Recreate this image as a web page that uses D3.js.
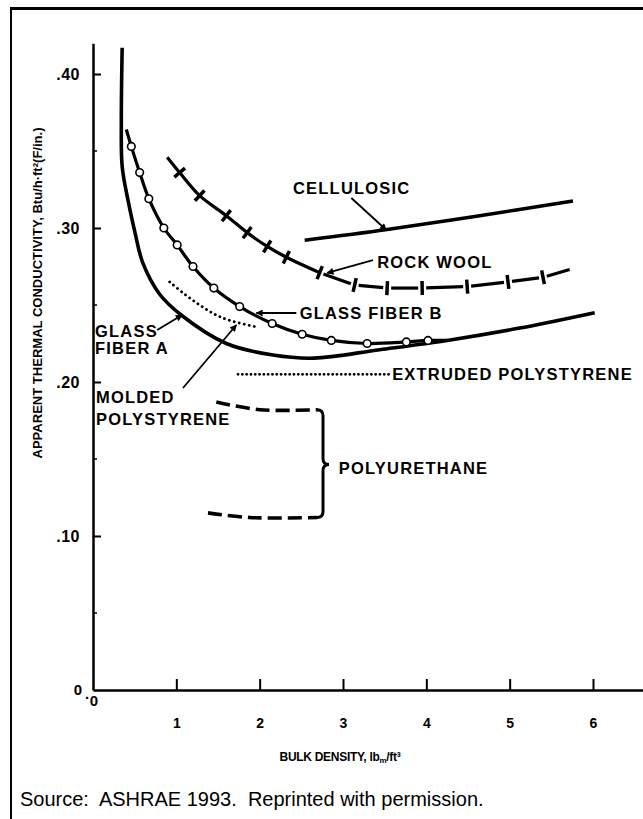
<!DOCTYPE html>
<html><head><meta charset="utf-8">
<script src="https://cdn.jsdelivr.net/npm/d3@7"></script>
<style>
html,body{margin:0;padding:0;background:#fff;}
svg{display:block;}
text{font-family:Arial,"Liberation Sans",Helvetica,sans-serif;fill:#000;}
</style></head><body>
<script>
// ---------- data ----------
const xTicks = [1, 2, 3, 4, 5, 6];
const xTickLabels = ["1", "2", "3", "4", "5", "6"];
const yTicks = [0.10, 0.20, 0.30, 0.40];
const yTickLabels = [".10", ".20", ".30", ".40"];
const yMinorTicks = [0.05, 0.15, 0.25, 0.35];

const glassFiberA = [[0.35,0.417],[0.34,0.37],[0.35,0.34],[0.42,0.318],[0.50,0.298],[0.60,0.277],[0.80,0.257],[1.07,0.243],[1.60,0.225],[2.16,0.2175],[2.65,0.2155],[3.44,0.221],[4.25,0.227],[5.12,0.235],[6.02,0.245]];
const glassFiberBLine = [[0.40,0.364],[0.46,0.353],[0.56,0.336],[0.67,0.319],[0.85,0.300],[1.01,0.289],[1.20,0.275],[1.45,0.261],[1.76,0.249],[2.15,0.238],[2.51,0.231],[2.86,0.227],[3.29,0.225],[3.76,0.226],[4.02,0.227],[4.25,0.227]];
const glassFiberBPoints = [[0.46,0.353],[0.56,0.336],[0.67,0.319],[0.85,0.300],[1.01,0.289],[1.20,0.275],[1.45,0.261],[1.76,0.249],[2.15,0.238],[2.51,0.231],[2.86,0.227],[3.29,0.225],[3.76,0.226],[4.02,0.227]];
const rockWool = [[0.89,0.346],[1.04,0.336],[1.28,0.321],[1.60,0.308],[1.85,0.297],[2.09,0.288],[2.32,0.281],[2.72,0.271],[3.14,0.263],[3.53,0.261],[3.95,0.261],[4.49,0.262],[4.98,0.265],[5.40,0.268],[5.72,0.273]];
const cellulosic = [[2.54,0.292],[3.53,0.299],[4.64,0.308],[5.76,0.3175]];
const moldedPolystyrene = [[0.92,0.265],[1.10,0.257],[1.28,0.250],[1.46,0.244],[1.64,0.240],[1.94,0.236]];
const extrudedPolystyrene = [[1.74,0.205],[3.55,0.205]];
const polyurethaneHigh = [[1.48,0.187],[2.00,0.182],[2.70,0.182]];
const polyurethaneLow = [[1.38,0.115],[1.88,0.112],[2.69,0.112]];

const labels = [
  {t:"CELLULOSIC", x:2.40, y:0.322},
  {t:"ROCK WOOL", x:3.41, y:0.274},
  {t:"GLASS FIBER B", x:2.48, y:0.241},
  {t:"GLASS", x:0.024, y:0.229},
  {t:"FIBER A", x:0.024, y:0.218},
  {t:"MOLDED", x:0.036, y:0.1864},
  {t:"POLYSTYRENE", x:0.036, y:0.172},
  {t:"EXTRUDED POLYSTYRENE", x:3.59, y:0.2013},
  {t:"POLYURETHANE", x:2.95, y:0.140}
];
const arrows = [
  {from:[3.10,0.3195], to:[3.52,0.2987]},
  {from:[3.36,0.2792], to:[2.81,0.2708]},
  {from:[2.44,0.2448], to:[1.96,0.2448]},
  {from:[0.77,0.2338], to:[1.07,0.2435]},
  {from:[1.08,0.1961], to:[1.72,0.237]}
];

// ---------- chart ----------
const W = 643, H = 819;
const svg = d3.select("body").append("svg").attr("width", W).attr("height", H);

const x = d3.scaleLinear().domain([0, 6.6]).range([93, 643]);
const y = d3.scaleLinear().domain([0, 0.42]).range([690, 43.2]);

// frame
svg.append("line").attr("x1",10).attr("x2",W).attr("y1",8.5).attr("y2",8.5).attr("stroke","#000").attr("stroke-width",3);
svg.append("line").attr("x1",11).attr("x2",11).attr("y1",7).attr("y2",H).attr("stroke","#000").attr("stroke-width",2);

// y axis
const yAxis = d3.axisLeft(y).tickValues(yTicks).tickFormat((d,i)=>yTickLabels[i]).tickSizeInner(-8).tickSizeOuter(0).tickPadding(13);
const gy = svg.append("g").attr("transform", `translate(${x(0)},0)`).call(yAxis);
gy.select(".domain").attr("stroke-width", 2.5);
gy.selectAll(".tick line").attr("stroke-width", 2);
gy.selectAll(".tick text").attr("font-size", 16).attr("font-weight","bold").attr("font-family", null).attr("letter-spacing", 0.5);
svg.append("g").selectAll("line").data(yMinorTicks).join("line")
  .attr("x1", x(0)).attr("x2", x(0)+4).attr("y1", d=>y(d)).attr("y2", d=>y(d)).attr("stroke","#000").attr("stroke-width",1.5);

// x axis
const xAxis = d3.axisBottom(x).tickValues(xTicks).tickFormat((d,i)=>xTickLabels[i]).tickSizeInner(-11).tickSizeOuter(0).tickPadding(28);
const gx = svg.append("g").attr("transform", `translate(0,${y(0)})`).call(xAxis);
gx.select(".domain").attr("stroke-width", 2.5);
gx.selectAll(".tick line").attr("stroke-width", 2);
gx.selectAll(".tick text").attr("font-size", 14).attr("font-weight","bold").attr("font-family", null);

// origin zeros
svg.append("text").attr("x", x(0)-15).attr("y", y(0)+5).attr("text-anchor","middle").attr("font-size",15).attr("font-weight","bold").text("0");
svg.append("text").attr("x", x(0)-6).attr("y", y(0)+9).attr("text-anchor","middle").attr("font-size",15).attr("font-weight","bold").text(".");
svg.append("text").attr("x", x(0)+1).attr("y", y(0)+16).attr("text-anchor","middle").attr("font-size",15).attr("font-weight","bold").text("0");

// axis titles
const xt = svg.append("text").attr("x", 340).attr("y", 761).attr("text-anchor","middle")
  .attr("font-size", 12).attr("font-weight","bold").attr("letter-spacing", -0.3);
xt.append("tspan").text("BULK DENSITY, lb");
xt.append("tspan").attr("font-size", 8).attr("dy", 2).text("m");
xt.append("tspan").attr("dy", -2).text("/ft³");

svg.append("text").attr("transform","translate(42,293) rotate(-90)").attr("text-anchor","middle")
  .attr("font-size", 13).attr("font-weight","bold").attr("textLength",331).attr("lengthAdjust","spacingAndGlyphs")
  .text("APPARENT THERMAL CONDUCTIVITY, Btu/h·ft²(F/in.)");

// source
svg.append("text").attr("x", 20).attr("y", 806).attr("font-size", 20).style("white-space","pre")
  .text("Source:  ASHRAE 1993.  Reprinted with permission.");

// curves
const line = d3.line().x(d=>x(d[0])).y(d=>y(d[1])).curve(d3.curveCatmullRom.alpha(0.5));
const plot = svg.append("g").attr("fill","none").attr("stroke","#000");

plot.append("path").datum(glassFiberA).attr("d", line).attr("stroke-width", 3.6);
plot.append("path").datum(glassFiberBLine).attr("d", line).attr("stroke-width", 3.2);
plot.append("path").datum(cellulosic).attr("d", line).attr("stroke-width", 3.6);

// rock wool: solid portion then gapped portion
const rwSplit = 7;
plot.append("path").datum(rockWool.slice(0, rwSplit+1)).attr("d", line).attr("stroke-width", 3.2);
const gap = 4;
for (let i = rwSplit; i < rockWool.length-1; i++) {
  const a = [x(rockWool[i][0]), y(rockWool[i][1])];
  const b = [x(rockWool[i+1][0]), y(rockWool[i+1][1])];
  const dx = b[0]-a[0], dy = b[1]-a[1], L = Math.hypot(dx,dy);
  const ux = dx/L, uy = dy/L;
  const endGap = (i+1 === rockWool.length-1) ? 0 : gap;
  plot.append("line").attr("x1", a[0]+ux*gap).attr("y1", a[1]+uy*gap)
    .attr("x2", b[0]-ux*endGap).attr("y2", b[1]-uy*endGap).attr("stroke-width", 3.2);
}
// rock wool cross ticks
for (let i = 1; i < rockWool.length-1; i++) {
  const p = [x(rockWool[i][0]), y(rockWool[i][1])];
  const a = [x(rockWool[i-1][0]), y(rockWool[i-1][1])];
  const b = [x(rockWool[i+1][0]), y(rockWool[i+1][1])];
  const dx = b[0]-a[0], dy = b[1]-a[1], L = Math.hypot(dx,dy);
  const nx = -dy/L, ny = dx/L, h = 7;
  plot.append("line").attr("x1", p[0]+nx*h).attr("y1", p[1]+ny*h).attr("x2", p[0]-nx*h).attr("y2", p[1]-ny*h).attr("stroke-width", 3.5);
}

// dotted
plot.append("path").datum(moldedPolystyrene).attr("d", line).attr("stroke-width", 2.8)
  .attr("stroke-dasharray","0.1,5").attr("stroke-linecap","round");
plot.append("path").datum(extrudedPolystyrene).attr("d", line).attr("stroke-width", 2.8)
  .attr("stroke-dasharray","0.1,4.2").attr("stroke-linecap","round");

// dashed polyurethane
plot.append("path").datum(polyurethaneHigh).attr("d", line).attr("stroke-width", 3.6).attr("stroke-dasharray","14,6");
plot.append("path").datum(polyurethaneLow).attr("d", line).attr("stroke-width", 3.6).attr("stroke-dasharray","14,6");

// brace
{
  const y0 = y(polyurethaneHigh[polyurethaneHigh.length-1][1]);
  const y1 = y(polyurethaneLow[polyurethaneLow.length-1][1]);
  const xb = x(2.76);
  const x0 = xb - 6, x2 = xb + 6, ym = (y0+y1)/2 + 1, r = 6;
  plot.append("path").attr("stroke-width", 3)
    .attr("d", `M${x0},${y0} Q${xb},${y0} ${xb},${y0+r} L${xb},${ym-r} Q${xb},${ym} ${x2},${ym} Q${xb},${ym} ${xb},${ym+r} L${xb},${y1-r} Q${xb},${y1} ${x0},${y1}`);
}

// glass fiber B open circles
svg.append("g").selectAll("circle").data(glassFiberBPoints).join("circle")
  .attr("cx", d=>x(d[0])).attr("cy", d=>y(d[1])).attr("r", 3.8)
  .attr("fill","#fff").attr("stroke","#000").attr("stroke-width",1.6);

// arrows
svg.append("defs").append("marker").attr("id","ah").attr("viewBox","0 0 10 10").attr("refX",9).attr("refY",5)
  .attr("markerWidth",10).attr("markerHeight",7).attr("markerUnits","userSpaceOnUse").attr("orient","auto")
  .append("path").attr("d","M0,0 L10,5 L0,10 Z").attr("fill","#000");
svg.append("g").selectAll("line").data(arrows).join("line")
  .attr("x1", d=>x(d.from[0])).attr("y1", d=>y(d.from[1]))
  .attr("x2", d=>x(d.to[0])).attr("y2", d=>y(d.to[1]))
  .attr("stroke","#000").attr("stroke-width",1.8).attr("marker-end","url(#ah)");

// labels
svg.append("g").selectAll("text").data(labels).join("text")
  .attr("x", d=>x(d.x)).attr("y", d=>y(d.y))
  .attr("font-size", 16.5).attr("font-weight","bold").attr("letter-spacing", 1.2)
  .text(d=>d.t);
</script>
</body></html>
